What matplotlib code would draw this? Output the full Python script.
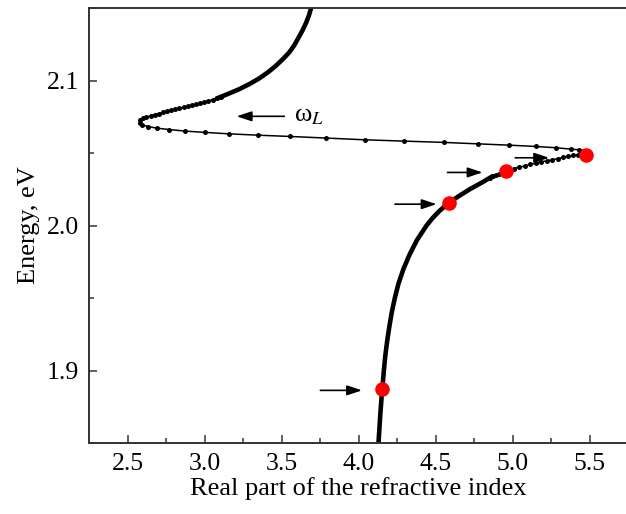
import matplotlib
matplotlib.use("Agg")
import matplotlib.pyplot as plt
from matplotlib.ticker import MultipleLocator, FormatStrFormatter

plt.rcParams['font.family'] = ['Liberation Serif', 'DejaVu Serif']
plt.rcParams['mathtext.fontset'] = 'stix'

# ---- data (n = real part of refractive index, E = energy in eV) ----
# lower branch (dense points -> thick line)
n_low = [4.128, 4.134, 4.140, 4.147, 4.155, 4.163, 4.172, 4.184, 4.198, 4.214, 4.234,
         4.258, 4.290, 4.330, 4.378, 4.440, 4.478, 4.523, 4.578, 4.645, 4.720, 4.805, 4.868]
E_low = [1.850, 1.860, 1.870, 1.880, 1.890, 1.900, 1.910, 1.920, 1.930, 1.940, 1.950,
         1.960, 1.970, 1.980, 1.990, 2.000, 2.005, 2.010, 2.015, 2.020, 2.025, 2.030, 2.034]

# resonance region (individual calculated points)
n_dot = [4.850, 4.868, 4.890, 4.912, 4.932, 4.950, 4.972,
         5.004, 5.041, 5.077, 5.112, 5.149, 5.185, 5.220, 5.256, 5.293, 5.328, 5.360,
         5.392, 5.425, 5.455, 5.478, 5.487, 5.468, 5.430,
         5.374, 5.282, 5.149, 4.976, 4.775, 4.552, 4.296, 4.039, 3.789, 3.555, 3.345,
         3.160, 3.004, 2.874, 2.769, 2.693, 2.635, 2.597, 2.579, 2.584,
         2.598, 2.621, 2.649, 2.675, 2.703, 2.729, 2.757, 2.783, 2.811, 2.837, 2.865,
         2.891, 2.919, 2.947, 2.972, 2.998, 3.025, 3.052, 3.080, 3.108]
E_dot = [2.0330, 2.0340, 2.0348, 2.0356, 2.0364, 2.0372, 2.0382,
         2.0393, 2.0402, 2.0411, 2.0421, 2.0430, 2.0439, 2.0446, 2.0453, 2.0462, 2.0469, 2.0476,
         2.0483, 2.0489, 2.0495, 2.0502, 2.0509, 2.0516, 2.0522,
         2.0527, 2.0536, 2.0545, 2.0554, 2.0563, 2.0573, 2.0582, 2.0591, 2.0603, 2.0614, 2.0623,
         2.0632, 2.0642, 2.0651, 2.0662, 2.0671, 2.0682, 2.0693, 2.0707, 2.0725,
         2.0738, 2.0748, 2.0756, 2.0765, 2.0772, 2.0780, 2.0787, 2.0794, 2.0801, 2.0808, 2.0815,
         2.0822, 2.0829, 2.0836, 2.0843, 2.0851, 2.0859, 2.0868, 2.0877, 2.0887]

# upper branch (dense points -> thick line)
n_up = [3.080, 3.130, 3.180, 3.226, 3.290, 3.355, 3.415, 3.463, 3.510, 3.550, 3.580,
        3.605, 3.635, 3.660, 3.677, 3.695]
E_up = [2.0877, 2.0898, 2.0920, 2.0941, 2.0975, 2.1015, 2.1060, 2.1102, 2.1150, 2.1195, 2.1240,
        2.1287, 2.1345, 2.1402, 2.1450, 2.1515]

# highlighted points
n_red = [4.153, 4.587, 4.955, 5.473]
E_red = [1.8875, 2.0158, 2.0377, 2.0485]

# arrows: (n_start, n_end, E)
arrow_n0 = [3.751, 4.235, 4.576, 5.015, 3.517]
arrow_n1 = [4.021, 4.505, 4.803, 5.235, 3.208]
arrow_E = [1.8863, 2.0147, 2.0366, 2.0467, 2.0753]

x_ticks = [2.5, 3.0, 3.5, 4.0, 4.5, 5.0, 5.5]
y_ticks = [1.9, 2.0, 2.1]

fig = plt.figure(figsize=(6.26, 5.14), dpi=100)
ax = fig.add_axes([89/626, 71/514, (628.5-89)/626, 435/514])

ax.plot(n_low, E_low, color='black', lw=3.3, solid_capstyle='round', zorder=2)
ax.plot(n_up, E_up, color='black', lw=3.3, solid_capstyle='round', zorder=2)
ax.plot(n_dot, E_dot, color='black', lw=1.1, marker='o', ms=3.6, mew=0, zorder=3)
ax.plot(n_red, E_red, ls='none', marker='o', ms=10.5, color='#ff0000', mew=0, zorder=4)

for a, b, e in zip(arrow_n0, arrow_n1, arrow_E):
    ax.annotate('', xy=(b, e), xytext=(a, e),
                arrowprops=dict(arrowstyle='-|>,head_length=0.9,head_width=0.3',
                                color='black', lw=1.2, shrinkA=0, shrinkB=0),
                zorder=5)

ax.text(3.58, 2.0752, 'ω$_L$', fontsize=19, ha='left', va='center')

ax.set_xlim(2.25, 5.75)
ax.set_ylim(1.85, 2.15)
ax.set_xticks(x_ticks)
ax.set_yticks(y_ticks)
ax.xaxis.set_minor_locator(MultipleLocator(0.25))
ax.yaxis.set_minor_locator(MultipleLocator(0.05))
ax.xaxis.set_major_formatter(FormatStrFormatter('%.1f'))
ax.yaxis.set_major_formatter(FormatStrFormatter('%.1f'))
ax.tick_params(which='both', direction='in', top=False, right=False, labelsize=18.5,
               width=1.1, color='#333333')
ax.tick_params(which='major', length=6, pad=7)
ax.tick_params(which='minor', length=3.5)
for s in ax.spines.values():
    s.set_linewidth(1.4)
    s.set_color('#333333')

ax.set_xlabel('Real part of the refractive index', fontsize=19, labelpad=2)
ax.set_ylabel('Energy, eV', fontsize=19, labelpad=5)

fig.savefig('out.png', dpi=100)
